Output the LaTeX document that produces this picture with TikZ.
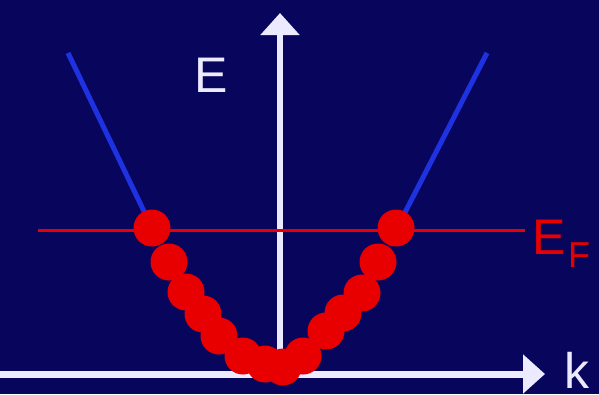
\documentclass[tikz,border=0pt]{standalone}
\usepackage{fontspec}
\setmainfont{Liberation Sans}
\usetikzlibrary{arrows.meta}
\definecolor{bg}{RGB}{8,6,92}
\definecolor{axiscol}{RGB}{236,234,255}
\definecolor{dotred}{RGB}{232,0,0}
\definecolor{bandblue}{RGB}{30,50,225}
\begin{document}
\begin{tikzpicture}[x=1pt,y=-1pt,
  axis/.style={axiscol,line width=6pt,-{Triangle[length=22pt,width=38pt]}},
  dot/.style={circle,fill=dotred,inner sep=0pt,minimum size=37pt},
  band/.style={bandblue,line width=5pt},
  lbl/.style={text=axiscol,font=\fontsize{50}{50}\selectfont,inner sep=0pt}]
\fill[bg] (0,0) rectangle (599,394);
\useasboundingbox (0,0) rectangle (599,394);
% coordinates
\coordinate (vb) at (280,376);
\coordinate (vt) at (280,13);
\coordinate (hl) at (0,374);
\coordinate (hr) at (545,374);
\coordinate (fl) at (38,230);
\coordinate (fr) at (525,230);
\coordinate (bl1) at (68,53);
\coordinate (bl2) at (152,228);
\coordinate (br1) at (487,53);
\coordinate (br2) at (397,228);
% blue bands
\draw[band] (bl1) -- (bl2);
\draw[band] (br1) -- (br2);
% axes
\draw[axis] (vb) -- (vt);
\draw[axis,line width=7pt] (hl) -- (hr);
% Fermi line
\draw[dotred,line width=3pt] (fl) -- (fr);
% dots
\foreach \n/\x/\y in {1/152/228,2/169/262,3/186/292,4/203/314,5/219/336,6/243/356,7/265/364,
  8/283/367,9/303/356,10/326/331,11/343/313,12/362/293,13/378/262,14/396/228}
  \node[dot] (d\n) at (\x,\y) {};
% labels
\node[lbl,anchor=south west] (E) at (194,93) {E};
\node[lbl,anchor=south west] (k) at (564,389) {k};
\node[lbl,text=dotred,anchor=south west] (EF) at (532,255) {E};
\node[text=dotred,font=\fontsize{36}{36}\selectfont,inner sep=0pt,anchor=south west] (F) at (568,268) {F};
\end{tikzpicture}
\end{document}
